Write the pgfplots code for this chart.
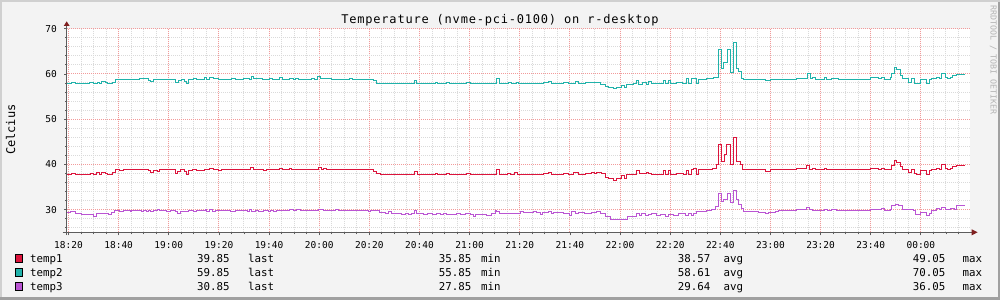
\documentclass[border=0pt]{standalone}
\usepackage{pgfplots}
\pgfplotsset{compat=1.18}
\usepackage{fontspec}
\setmainfont{DejaVu Sans Mono}
\newfontfamily\mono{DejaVu Sans Mono}
\newfontfamily\titlefont[LetterSpace=6.5]{DejaVu Sans Mono}
\definecolor{bg}{HTML}{F3F3F3}
\definecolor{shadea}{HTML}{D0D0D0}
\definecolor{shadeb}{HTML}{A0A0A0}
\definecolor{gridc}{HTML}{DADADA}
\definecolor{mgridc}{HTML}{F29A9A}
\definecolor{axisc}{HTML}{5C5C5C}
\definecolor{arrowc}{HTML}{7F1F1F}
\definecolor{c1}{HTML}{DC143C}
\definecolor{c2}{HTML}{20B2AA}
\definecolor{c3}{HTML}{BA55D3}
\definecolor{wm}{HTML}{B4B4B4}
\newcommand{\ticksfont}{\mono\fontsize{9.5}{11}\selectfont}
\newcommand{\legfont}{\mono\fontsize{10.8}{12}\selectfont}
\begin{document}
\begin{tikzpicture}[x=1pt,y=1pt]
\path[use as bounding box] (0,0) rectangle (1000,300);
\fill[bg] (0,0) rectangle (1000,300);
\fill[shadea] (0,298) rectangle (1000,300);
\fill[shadea] (0,0) rectangle (2,300);
\fill[shadeb] (0,0) rectangle (1000,3);
\fill[shadeb] (998,0) rectangle (1000,298);
\begin{axis}[
  at={(67pt,67.7pt)}, anchor=south west, scale only axis,
  width=902.5pt, height=203.6pt,
  xmin=19.4, xmax=379.4, ymin=25, ymax=70,
  axis line style={draw=none},
  axis background/.style={fill=white},
  xtick={20,40,...,360},
  xticklabels={18:20,18:40,19:00,19:20,19:40,20:00,20:20,20:40,21:00,21:20,21:40,22:00,22:20,22:40,23:00,23:20,23:40,00:00},
  minor xtick={25,30,...,375},
  ytick={30,40,50,60,70},
  yticklabels={30,40,50,60,70},
  minor ytick={26,28,...,68},
  grid=both,
  minor grid style={draw=gridc, dash pattern=on 1pt off 1pt, line width=1pt},
  major grid style={draw=mgridc, dash pattern=on 1pt off 1pt, line width=1pt},
  tick style={draw=axisc, line width=0.8pt},
  major tick length=3pt, minor tick length=2pt, tick align=outside,
  xtick pos=bottom, ytick pos=left,
  /pgf/number format/assume math mode=true,
  xticklabel style={font=\ticksfont, anchor=center, inner sep=0pt, yshift=-10pt},
  yticklabel style={font=\ticksfont, anchor=east, inner sep=0pt, xshift=-7pt},
  clip=true,
]
\addplot[const plot, c1, line width=1pt] coordinates {
(19.4,37.75)(21.3,37.95)(22.7,37.75)(28.7,37.95)(30,37.75)(31.1,38.25)(32.4,37.8)(33.3,38.25)(34.6,37.95)(35.7,37.75)(37.6,38.25)(38.6,38.85)(40.4,38.6)(42,38.85)(51.9,38.55)(52.8,38.25)(53.9,38.55)(55.3,38.4)(56.3,38.85)(62.6,38.1)(63.5,38.35)(64.8,38.85)(66.2,38.35)(67,37.8)(67.9,38.6)(69.6,38.85)(71.2,38.65)(74.1,38.85)(76.1,39.05)(77.9,38.85)(79.9,38.65)(81.2,38.85)(92.5,39.25)(93.8,38.85)(97.8,38.65)(99.1,38.85)(104.2,39.05)(105.5,38.85)(108.2,39.05)(109.1,38.85)
(119.7,39.25)(120.8,38.85)(121.7,39.05)(123.1,38.85)(141.7,38.35)(143,37.95)(144.3,37.75)(157.9,38.4)(159.2,37.75)(166.3,37.95)(167.2,37.75)(170.9,37.9)(172,37.75)(178.9,37.95)(180.2,37.75)(190.6,38.85)(191.9,37.75)(195.1,37.95)(196.5,37.75)(197.8,38.2)(198.9,37.75)
(209.5,37.95)(211.5,38.25)(212.8,37.8)(217.5,38.05)(219.5,37.8)(221.4,38.25)(223.4,37.8)(226.1,38.05)(228.8,38.25)(229.7,37.95)(230.8,38.25)(232.8,37.95)(234.1,37.2)(235.4,37.0)(237.4,36.5)(238.7,36.85)(240.7,37.6)(241.7,36.85)(242.7,37.8)(246.7,38.55)(247.6,37.95)(250.4,38.25)(251.5,37.95)(252.7,37.8)(257.4,38.55)(258.3,37.8)(259.3,38.55)(260.3,37.8)(262.7,38.05)(265.3,37.8)(266.7,38.55)(267.3,37.8)(268.7,38.9)(269.3,39.05)(270.4,37.8)(271.3,38.85)(277,39.05)(278.4,39.95)(279.4,44.35)(280.6,40.55)(281.5,42.15)(282.6,44.35)(284,39.95)(285.3,45.9)(286.6,40.55)(288,39.95)(289,38.85)
(297.9,38.45)(300.1,38.85)(310.5,39.05)(314.5,39.8)(315.6,38.85)(316.9,39.05)(317.8,38.85)(321.4,39.05)(322.5,38.85)(339.8,39.05)(343.1,38.85)(344.4,39.05)(345.5,38.85)(348.4,39.8)(349.5,40.9)(350.4,40.45)(351.7,39.45)(352.8,38.85)(355.1,38.15)(356.4,38.85)(357.3,37.95)(358.4,37.8)(360,38.6)(362.1,37.8)(363.4,38.6)(364.4,38.85)(366.4,39.05)(367.4,38.9)(368.4,39.95)(369.7,39.2)(370.6,38.9)(371.7,39.05)(372.8,39.45)(374.1,39.85)(377.7,39.85)
};
\addplot[const plot, c2, line width=1pt] coordinates {
(19.4,57.85)(21.3,58.05)(22.7,57.85)(28.4,58.05)(30,57.85)(31.6,58.05)(32.4,57.85)(33.3,58.25)(34.6,58.05)(35.7,57.85)(37.6,58.05)(38.6,58.85)(48.3,59.05)(51.9,58.65)(52.8,58.3)(53.9,58.85)(62.6,58.2)(63.9,58.45)(65.2,58.85)(66.2,58.35)(67,57.85)(67.9,58.85)(69.9,59.05)(71.2,58.85)(74.1,59.3)(75.2,58.85)(76.1,59.15)(77.9,58.95)(79.9,58.85)(85.2,58.95)(86.8,58.85)(89.8,59.05)(92.2,58.85)(93.1,59.45)(93.8,58.95)(95.1,59.05)(97.5,58.85)(100.2,58.95)(101.5,58.85)(104.2,59.2)(105.5,58.85)(108.2,59.1)(109.8,58.85)(110.4,59.05)(111.8,58.85)
(117.1,59.05)(118.1,58.85)(119.3,59.4)(120.7,59.1)(123.1,58.95)(125.1,58.85)(132.1,58.95)(133.4,58.85)(141.7,58.5)(143,57.85)(157.9,58.45)(159,57.85)(166.3,58.05)(167.2,57.85)(170.9,58.05)(172,57.85)(178.9,58.05)(180.2,57.85)(190.6,58.95)(191.9,57.85)(195.5,58.05)(196.9,57.85)(198.6,58.05)(199.5,57.85)
(209.5,58.05)(211.5,58.3)(212.8,57.85)(217.5,58.05)(219.5,57.85)(222.1,58.3)(223.4,57.85)(226.1,58.05)(230.8,58.2)(232.1,57.7)(234.1,57.25)(235.4,56.95)(237.4,56.75)(238.7,56.95)(240.7,57.4)(241.7,56.9)(242.7,57.7)(245.4,57.85)(246.7,58.45)(247.4,57.7)(249.1,58.05)(250.4,57.7)(251.5,58.3)(252.7,57.85)(257.4,58.5)(258.3,57.85)(259.3,58.5)(260.3,57.85)(262.7,58.05)(265.1,57.85)(266.7,58.95)(267.3,57.85)(268.7,59.1)(270.4,57.85)(271.3,58.8)(274.6,58.95)(277.3,59.15)(278.4,59.3)(279.3,65.35)(280.3,61.1)(281.3,62.5)(282.9,65.35)(284,60.4)(285.2,66.9)(286.6,61.1)(287.2,60.5)(288.3,58.95)(289.2,58.8)
(297.9,58.6)(300.1,58.8)(310.5,58.95)(313.8,59.1)(314.8,60.05)(315.8,58.95)(316.9,59.3)(317.8,58.8)(321.4,59.25)(322.5,58.8)(324.5,58.95)(327.1,58.8)(339.8,59.15)(343.1,58.95)(344.4,59.15)(345.5,58.8)(347.8,59.15)(348.4,60.2)(349.5,61.35)(350.4,60.95)(351.7,59.7)(352.8,58.95)(355.1,58.05)(356.4,58.95)(357.3,57.85)(360,58.8)(362.1,57.85)(363.4,58.8)(364.4,58.95)(366.4,59.15)(367.4,58.95)(368.4,60.05)(369.7,59.15)(370.6,58.95)(371.7,59.3)(372.8,59.7)(374.1,59.95)(375.4,59.85)(377.7,59.85)
};
\addplot[const plot, c3, line width=1pt] coordinates {
(19.4,29.35)(20.7,29.6)(22.7,29.05)(25.3,28.85)(30,28.6)(31.1,29.1)(36,28.95)(37.3,29.35)(38.2,29.8)(40.4,29.55)(42,29.8)(44.6,29.6)(45.3,29.8)(49.3,29.55)(49.9,29.8)(51.3,29.55)(51.9,29.8)(52.6,29.55)(53.9,29.8)(55.3,30.05)(56.3,29.8)(59,29.6)(60.6,29.8)(62.6,29.5)(63.5,29.1)(64.8,29.6)(67.9,29.8)(69.9,29.55)(71.2,29.8)(74.5,30.05)(75.2,29.6)(76.3,30.05)(77.6,29.6)(78.5,29.8)(84.5,29.6)(86.5,29.8)(91.2,29.6)(92.2,30.05)(93.1,29.6)(94.5,29.85)(95.8,29.6)(97.8,29.8)(99.8,29.55)(100.5,29.8)(101.8,29.6)(103.1,29.8)(108.2,30.05)(109.8,29.85)(111.1,30.0)
(112.4,29.9)(119.7,30.05)(121.7,29.85)(126.4,30.05)(127.7,29.85)(139.7,29.55)(140.3,29.85)(144.1,29.35)(146.3,29.1)(147.7,29.5)(149,29.25)(150.3,29.1)(153,28.9)(154.3,29.25)(155.6,28.9)(157,29.1)(157.9,29.75)(158.7,29.25)(159.6,29.05)(161.6,28.9)(163,29.05)(165,28.9)(166.9,29.05)(168.3,28.9)(169.6,29.25)(170.7,28.9)(174.9,29.05)(176.2,28.9)(178.2,29.05)(180.2,28.9)(181.6,28.6)(182.2,28.9)(186.9,28.75)(188.9,29.05)(190.2,29.75)(190.9,29.5)(191.9,29.25)(193.5,29.05)(194.9,29.25)(196.9,29.05)(197.5,29.25)(198.9,29.05)(200.2,29.5)(201.5,29.3)
(205.5,29.5)(206.8,29.3)(208.1,28.9)(209.2,29.3)(211.5,29.5)(212.8,29.05)(213.5,29.3)(217.5,29.1)(219.9,28.75)(220.8,29.5)(222.1,29.05)(223.4,29.3)(225.7,29.1)(228.8,29.3)(230.8,29.5)(232.1,29.1)(234.1,28.6)(236.1,27.9)(243,28.6)(246.7,29.05)(247.6,28.75)(248.7,29.05)(250,28.75)(251.4,28.9)(252.7,29.05)(254.7,28.75)(256,28.9)(258,28.6)(259.3,28.9)(261.3,28.75)(263.3,29.05)(264.7,29.25)(266,28.75)(267.3,29.25)(268.7,28.75)(269.3,29.25)(270.4,29.7)(271.3,29.5)(274.6,29.75)(276.6,30.05)(277.9,30.8)(279.3,33.5)(280.3,31.9)(281.3,32.3)(282.9,33.5)(284,31.5)(285.2,34.3)(286.6,32.2)(287.2,31.15)(288.3,30.2)(289.2,29.7)
(293.2,29.5)(295.2,29.35)(297.9,29.1)(299.2,29.35)(301.9,29.6)(303.2,29.8)(310.5,30.05)(314.5,30.45)(315.6,30.05)(316.9,29.8)(318.5,29.9)(320.5,29.8)(321.4,30.05)(322.8,29.8)(324.5,30.05)(326.5,29.8)(339.8,30.05)(344.4,30.3)(345.5,29.8)(347.8,30.05)(348.4,30.9)(349.7,31.1)(351.1,30.9)(352.8,30.05)(357.1,29.8)(357.7,28.95)(360,29.35)(362.1,28.75)(363.4,29.25)(364.4,29.85)(366.4,30.3)(367.4,30.05)(368.4,30.45)(369.7,30.05)(371.7,30.3)(373.3,30.0)(374.1,30.85)(377.7,30.85)
};
\end{axis}
% axes
\draw[axisc, line width=1pt] (66.7,65) -- (66.7,274);
\draw[axisc, line width=1pt] (62.7,67.7) -- (972,67.7);
\fill[arrowc] (63.7,274) -- (69.7,274) -- (66.7,278.6) -- cycle;
\fill[arrowc] (971.7,70.7) -- (971.7,64.7) -- (977.6,67.7) -- cycle;
% title and labels
\node[anchor=base, inner sep=0pt] at (500,276.7) {\titlefont\fontsize{12}{14}\selectfont Temperature (nvme-pci-0100) on r-desktop};
\node[rotate=90, inner sep=0pt] at (10.5,170.3) {\mono\fontsize{12}{14}\selectfont Celcius};
\node[rotate=-90, inner sep=0pt, text=wm] at (993.3,240) {\mono\fontsize{8.3}{10}\selectfont RRDTOOL / TOBI OETIKER};
% legend
\foreach \c/\n/\y/\l/\mi/\av/\ma in {c1/temp1/37.7/39.85/35.85/38.57/49.05, c2/temp2/23.7/59.85/55.85/58.61/70.05, c3/temp3/9.7/30.85/27.85/29.64/36.05}{
  \filldraw[fill=\c, draw=black, line width=0.8pt] (15,\y) rectangle (22.5,\y+8);
  \node[anchor=base west, inner sep=0pt] at (30,\y) {\legfont \n};
  \node[anchor=base east, inner sep=0pt] at (229.8,\y) {\legfont \l};
  \node[anchor=base west, inner sep=0pt] at (247.8,\y) {\legfont last};
  \node[anchor=base east, inner sep=0pt] at (471.5,\y) {\legfont \mi};
  \node[anchor=base west, inner sep=0pt] at (481,\y) {\legfont min};
  \node[anchor=base east, inner sep=0pt] at (710.5,\y) {\legfont \av};
  \node[anchor=base west, inner sep=0pt] at (723.5,\y) {\legfont avg};
  \node[anchor=base east, inner sep=0pt] at (945.5,\y) {\legfont \ma};
  \node[anchor=base west, inner sep=0pt] at (962.5,\y) {\legfont max};
}
\end{tikzpicture}
\end{document}
